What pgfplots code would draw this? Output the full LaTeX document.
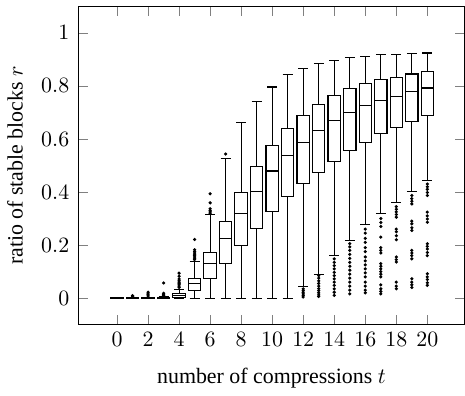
\documentclass[border=0pt]{standalone}
\usepackage{fontspec}
\setmainfont{Liberation Serif}
\usepackage{pgfplots}
\pgfplotsset{compat=1.18}
\usepgfplotslibrary{statistics}
\begin{document}
\begin{tikzpicture}
\begin{axis}[
  scale only axis,
  width=176.5pt, height=145.4pt,
  xmin=-2.5, xmax=22.4,
  ymin=-0.1, ymax=1.1,
  xtick={0,2,...,20},
  ytick={0,0.2,0.4,0.6,0.8,1},
  xlabel={number of compressions $t$},
  ylabel={ratio of stable blocks $r$},
  yticklabel style={xshift=-0.6pt},
  ylabel shift=1.5pt,
  xlabel shift=3pt,
  title={\rule{0pt}{2.7pt}},
  title style={inner sep=0pt, yshift=-6pt},
  boxplot/draw direction=y,
  every axis plot/.append style={black, solid, line width=0.5pt, mark=*, mark size=0.45pt},
]
\addplot[boxplot prepared={draw position=0, lower whisker=0, lower quartile=0, median=0, upper quartile=0.0005, upper whisker=0.001}] coordinates {};
\addplot[boxplot prepared={draw position=1, lower whisker=0, lower quartile=0, median=0, upper quartile=0.001, upper whisker=0.002}] coordinates {(1,0.006) (1,0.009)};
\addplot[boxplot prepared={draw position=2, lower whisker=0, lower quartile=0, median=0, upper quartile=0.001, upper whisker=0.003}] coordinates {(2,0.008) (2,0.012) (2,0.016) (2,0.022)};
\addplot[boxplot prepared={draw position=3, lower whisker=0, lower quartile=0, median=0.001, upper quartile=0.002, upper whisker=0.005}] coordinates {(3,0.01) (3,0.014) (3,0.018) (3,0.057)};
\addplot[boxplot prepared={draw position=4, lower whisker=0, lower quartile=0.002, median=0.009, upper quartile=0.018, upper whisker=0.032}] coordinates {(4,0.04) (4,0.045) (4,0.05) (4,0.055) (4,0.06) (4,0.065) (4,0.072) (4,0.082) (4,0.094)};
\addplot[boxplot prepared={draw position=5, lower whisker=0, lower quartile=0.028, median=0.054, upper quartile=0.073, upper whisker=0.138}] coordinates {(5,0.145) (5,0.15) (5,0.155) (5,0.16) (5,0.165) (5,0.17) (5,0.176) (5,0.182) (5,0.221)};
\addplot[boxplot prepared={draw position=6, lower whisker=0, lower quartile=0.073, median=0.129, upper quartile=0.173, upper whisker=0.314}] coordinates {(6,0.32) (6,0.325) (6,0.33) (6,0.337) (6,0.359) (6,0.393)};
\addplot[boxplot prepared={draw position=7, lower whisker=0, lower quartile=0.13, median=0.223, upper quartile=0.289, upper whisker=0.527}] coordinates {(7,0.543)};
\addplot[boxplot prepared={draw position=8, lower whisker=0, lower quartile=0.198, median=0.318, upper quartile=0.399, upper whisker=0.661}] coordinates {};
\addplot[boxplot prepared={draw position=9, lower whisker=0, lower quartile=0.264, median=0.403, upper quartile=0.495, upper whisker=0.741}] coordinates {};
\addplot[boxplot prepared={draw position=10, lower whisker=0, lower quartile=0.325, median=0.479, upper quartile=0.575, upper whisker=0.796}] coordinates {};
\addplot[boxplot prepared={draw position=11, lower whisker=0, lower quartile=0.383, median=0.536, upper quartile=0.638, upper whisker=0.843}] coordinates {};
\addplot[boxplot prepared={draw position=12, lower whisker=0.045, lower quartile=0.431, median=0.588, upper quartile=0.689, upper whisker=0.867}] coordinates {(12,0.004) (12,0.01) (12,0.016) (12,0.022) (12,0.028) (12,0.035)};
\addplot[boxplot prepared={draw position=13, lower whisker=0.09, lower quartile=0.472, median=0.632, upper quartile=0.729, upper whisker=0.885}] coordinates {(13,0.006) (13,0.012) (13,0.02) (13,0.028) (13,0.036) (13,0.045) (13,0.055) (13,0.065) (13,0.075) (13,0.085)};
\addplot[boxplot prepared={draw position=14, lower whisker=0.159, lower quartile=0.516, median=0.670, upper quartile=0.763, upper whisker=0.897}] coordinates {(14,0.01) (14,0.022) (14,0.035) (14,0.048) (14,0.06) (14,0.072) (14,0.085) (14,0.097) (14,0.11) (14,0.122) (14,0.135) (14,0.148)};
\addplot[boxplot prepared={draw position=15, lower whisker=0.217, lower quartile=0.556, median=0.699, upper quartile=0.789, upper whisker=0.906}] coordinates {(15,0.016) (15,0.03) (15,0.045) (15,0.06) (15,0.075) (15,0.09) (15,0.105) (15,0.12) (15,0.135) (15,0.15) (15,0.165) (15,0.18) (15,0.193) (15,0.205)};
\addplot[boxplot prepared={draw position=16, lower whisker=0.276, lower quartile=0.588, median=0.725, upper quartile=0.808, upper whisker=0.912}] coordinates {(16,0.02) (16,0.03) (16,0.045) (16,0.06) (16,0.08) (16,0.095) (16,0.11) (16,0.125) (16,0.14) (16,0.155) (16,0.175) (16,0.19) (16,0.21) (16,0.225) (16,0.245) (16,0.26)};
\addplot[boxplot prepared={draw position=17, lower whisker=0.320, lower quartile=0.619, median=0.745, upper quartile=0.823, upper whisker=0.917}] coordinates {(17,0.016) (17,0.025) (17,0.035) (17,0.05) (17,0.08) (17,0.09) (17,0.1) (17,0.11) (17,0.12) (17,0.13) (17,0.17) (17,0.18) (17,0.19) (17,0.23) (17,0.27) (17,0.285) (17,0.30)};
\addplot[boxplot prepared={draw position=18, lower whisker=0.362, lower quartile=0.644, median=0.761, upper quartile=0.833, upper whisker=0.920}] coordinates {(18,0.035) (18,0.045) (18,0.06) (18,0.136) (18,0.145) (18,0.155) (18,0.22) (18,0.235) (18,0.25) (18,0.26) (18,0.305) (18,0.315) (18,0.325) (18,0.335) (18,0.345)};
\addplot[boxplot prepared={draw position=19, lower whisker=0.402, lower quartile=0.667, median=0.780, upper quartile=0.845, upper whisker=0.922}] coordinates {(19,0.04) (19,0.05) (19,0.06) (19,0.073) (19,0.148) (19,0.16) (19,0.17) (19,0.18) (19,0.255) (19,0.265) (19,0.28) (19,0.29) (19,0.355) (19,0.365) (19,0.375) (19,0.387)};
\addplot[boxplot prepared={draw position=20, lower whisker=0.445, lower quartile=0.690, median=0.792, upper quartile=0.854, upper whisker=0.924}] coordinates {(20,0.048) (20,0.058) (20,0.07) (20,0.08) (20,0.092) (20,0.16) (20,0.172) (20,0.185) (20,0.195) (20,0.205) (20,0.286) (20,0.298) (20,0.31) (20,0.324) (20,0.387) (20,0.398) (20,0.41) (20,0.42) (20,0.43)};
\end{axis}
\end{tikzpicture}
\end{document}
